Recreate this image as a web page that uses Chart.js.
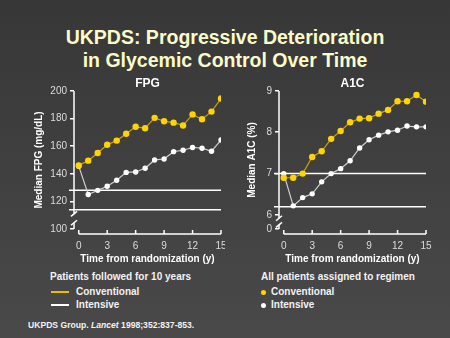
<!DOCTYPE html>
<html>
<head>
<meta charset="utf-8">
<script src="https://cdn.jsdelivr.net/npm/chart.js@4"></script>
<style>
  html, body { margin: 0; padding: 0; }
  body {
    width: 450px; height: 338px; overflow: hidden; position: relative;
    background: linear-gradient(#373737, #494949);
    font-family: Arial, "Liberation Sans", sans-serif;
  }
  .abs { position: absolute; white-space: nowrap; }
  .title {
    left: 0; width: 450px; top: 26px; text-align: center;
    color: #fbfbc9; font-weight: bold; font-size: 19.5px; line-height: 23px;
  }
  .lg { font-size: 10px; line-height: 12px; font-weight: bold; color: #f2f2f2; }
  .swatch { position: absolute; height: 1.5px; width: 18px; }
  .dot { position: absolute; width: 5px; height: 5px; border-radius: 50%; }
  .cite { font-size: 8.6px; line-height: 10px; font-weight: bold; color: #f2f2f2; left: 28px; top: 320px; }
  #fpgChart { position: absolute; left: 0; top: 70px; }
  #a1cChart { position: absolute; left: 225px; top: 70px; }
</style>
</head>
<body>
<div class="abs title">UKPDS: Progressive Deterioration<br>in Glycemic Control Over Time</div>

<canvas id="fpgChart" width="225" height="200"></canvas>
<canvas id="a1cChart" width="225" height="200"></canvas>

<div class="abs lg" style="left:50px; top:271px;">Patients followed for 10 years</div>
<div class="swatch" style="left:51px; top:291px; background:#e8c000;"></div>
<div class="abs lg" style="left:76px; top:286px;">Conventional</div>
<div class="swatch" style="left:51px; top:304px; background:#ffffff;"></div>
<div class="abs lg" style="left:76px; top:299px;">Intensive</div>

<div class="abs lg" style="left:261px; top:271px;">All patients assigned to regimen</div>
<div class="dot" style="left:261px; top:290px; background:#ffd400;"></div>
<div class="abs lg" style="left:271px; top:286px;">Conventional</div>
<div class="dot" style="left:261px; top:303px; background:#ffffff;"></div>
<div class="abs lg" style="left:271px; top:299px;">Intensive</div>

<div class="abs cite">UKPDS Group. <i>Lancet</i> 1998;352:837-853.</div>

<script>
const years = [0, 1, 2, 3, 4, 5, 6, 7, 8, 9, 10, 11, 12, 13, 14, 15];
const yearTicks = [0, 3, 6, 9, 12, 15];

// median fasting plasma glucose, mg/dL
const fpgConventional = [146, 149.5, 155, 161, 164, 169, 174, 173, 180.5, 178, 177, 175, 183, 179.5, 185, 194.5];
const fpgIntensive = [145.5, 125, 128, 131, 135.3, 141, 141.3, 144, 150, 150.7, 156, 157, 159, 158.5, 156.3, 164.4];
const fpgTicks = [100, 120, 140, 160, 180, 200];
const fpgRefLines = [128, 114];
const fpgBreak = [104.5, 111];

// median HbA1c, %
const a1cConventional = [6.9, 6.9, 7.0, 7.4, 7.54, 7.84, 8.03, 8.24, 8.33, 8.34, 8.45, 8.54, 8.75, 8.75, 8.9, 8.74];
const a1cIntensive = [7.0, 6.22, 6.42, 6.51, 6.8, 7.0, 7.12, 7.31, 7.62, 7.82, 7.93, 8.01, 8.05, 8.15, 8.13, 8.13];
// bottom tick sits below the axis break and stands for 0
const a1cTicks = [5.66, 6, 7, 8, 9];
const a1cTickLabels = ['0', '6', '7', '8', '9'];
const a1cRefLines = [7.0, 6.2];
const a1cBreak = [5.76, 5.92];

const FONT = 'Arial, "Liberation Sans", sans-serif';
const GOLD_LINE = '#c9a400';
const GOLD_POINT = '#ffd400';

// broken y axis, x axis with upward ticks, and the horizontal target lines
const axisDecor = {
    id: 'axisDecor',
    beforeDatasetsDraw(chart, args, opts) {
        const { ctx, chartArea: a, scales: { x, y } } = chart;
        ctx.save();
        ctx.strokeStyle = '#ffffff';
        ctx.lineWidth = 1.5;

        const seg = (x1, y1, x2, y2) => {
            ctx.beginPath();
            ctx.moveTo(x1, y1);
            ctx.lineTo(x2, y2);
            ctx.stroke();
        };

        opts.refLines.forEach(v => {
            const py = y.getPixelForValue(v);
            seg(a.left - 5, py, a.right, py);
        });

        const ax = a.left;
        const gapLow = y.getPixelForValue(opts.breakAt[0]);
        const gapHigh = y.getPixelForValue(opts.breakAt[1]);
        seg(ax, a.top, ax, gapHigh);
        seg(ax, gapLow, ax, a.bottom);
        seg(ax - 3, gapHigh + 2.5, ax + 3, gapHigh - 2.5);
        seg(ax - 3, gapLow + 2.5, ax + 3, gapLow - 2.5);

        const by = a.bottom + 5;
        const x0 = x.getPixelForValue(yearTicks[0]);
        const x1 = x.getPixelForValue(yearTicks[yearTicks.length - 1]);
        seg(x0, by, x1, by);
        yearTicks.forEach(v => {
            const px = x.getPixelForValue(v);
            seg(px, by, px, by - 4);
        });
        ctx.restore();
    }
};

function makeChart(canvasId, cfg) {
    const ctx = document.getElementById(canvasId).getContext('2d');
    return new Chart(ctx, {
        type: 'line',
        data: {
            datasets: [
                {
                    label: 'Conventional',
                    data: years.map((t, i) => ({ x: t, y: cfg.conventional[i] })),
                    borderColor: GOLD_LINE,
                    borderWidth: 1.2,
                    pointRadius: 3.2,
                    pointBorderWidth: 0,
                    pointBackgroundColor: GOLD_POINT
                },
                {
                    label: 'Intensive',
                    data: years.map((t, i) => ({ x: t, y: cfg.intensive[i] })),
                    borderColor: '#cfcfcf',
                    borderWidth: 1.2,
                    pointRadius: 2.7,
                    pointBorderWidth: 0,
                    pointBackgroundColor: '#ffffff'
                }
            ]
        },
        options: {
            responsive: false,
            animation: false,
            layout: { padding: { left: 0, right: cfg.padRight, top: 0, bottom: 0 } },
            plugins: {
                legend: { display: false },
                tooltip: { enabled: false },
                title: {
                    display: true,
                    text: cfg.title,
                    fullSize: false,
                    color: '#ffffff',
                    font: { family: FONT, size: 12, weight: 'bold' },
                    padding: { top: 6.5, bottom: 0 }
                },
                axisDecor: { refLines: cfg.refLines, breakAt: cfg.breakAt }
            },
            scales: {
                x: {
                    type: 'linear',
                    min: -0.5,
                    max: 15,
                    afterBuildTicks: s => { s.ticks = yearTicks.map(v => ({ value: v })); },
                    afterFit: s => { s.height = 41; s.paddingLeft = 0; s.paddingRight = 0; },
                    grid: { display: false, drawTicks: false },
                    border: { display: false },
                    ticks: {
                        color: '#dcdcdc',
                        font: { family: FONT, size: 10 },
                        padding: 11,
                        maxRotation: 0,
                        autoSkip: false
                    },
                    title: {
                        display: true,
                        text: 'Time from randomization (y)',
                        color: '#ffffff',
                        font: { family: FONT, size: 10, weight: 'bold' },
                        padding: { top: 1, bottom: 5 }
                    }
                },
                y: {
                    min: cfg.yTicks[0],
                    max: cfg.yTicks[cfg.yTicks.length - 1],
                    afterBuildTicks: s => { s.ticks = cfg.yTicks.map(v => ({ value: v })); },
                    afterFit: s => { s.width = cfg.axisWidth; s.paddingTop = 0; s.paddingBottom = 0; },
                    grid: { drawOnChartArea: false, color: '#ffffff', lineWidth: 1.5, tickLength: 4 },
                    border: { display: false },
                    ticks: {
                        color: '#dcdcdc',
                        font: { family: FONT, size: 10 },
                        padding: 3,
                        callback: cfg.tickLabel
                    },
                    title: {
                        display: true,
                        text: cfg.yTitle,
                        color: '#ffffff',
                        font: { family: FONT, size: 10, weight: 'bold' },
                        padding: { top: cfg.yTitlePad, bottom: 0 }
                    }
                }
            }
        },
        plugins: [axisDecor]
    });
}

makeChart('fpgChart', {
    title: 'FPG',
    conventional: fpgConventional,
    intensive: fpgIntensive,
    yTicks: fpgTicks,
    tickLabel: v => v,
    refLines: fpgRefLines,
    breakAt: fpgBreak,
    yTitle: 'Median FPG (mg/dL)',
    yTitlePad: 33,
    axisWidth: 74,
    padRight: 4
});

makeChart('a1cChart', {
    title: 'A1C',
    conventional: a1cConventional,
    intensive: a1cIntensive,
    yTicks: a1cTicks,
    tickLabel: (v, i) => a1cTickLabels[i],
    refLines: a1cRefLines,
    breakAt: a1cBreak,
    yTitle: 'Median A1C (%)',
    yTitlePad: 21.4,
    axisWidth: 54,
    padRight: 24
});
</script>
</body>
</html>
